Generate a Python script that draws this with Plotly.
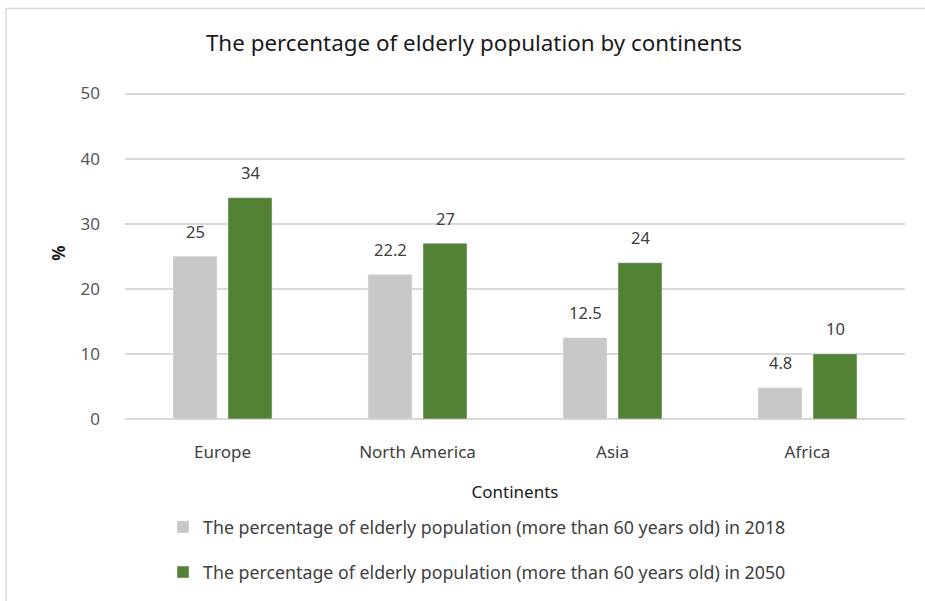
import plotly.graph_objects as go

# Share of population aged over 60, by continent
continents = ["Europe", "North America", "Asia", "Africa"]
pct_2018 = [25, 22.2, 12.5, 4.8]
pct_2050 = [34, 27, 24, 10]
series_names = [
    "The percentage of elderly population (more than 60 years old) in 2018",
    "The percentage of elderly population (more than 60 years old) in 2050",
]
y_ticks = [0, 10, 20, 30, 40, 50]

GREY = "#c8c8c8"
GREEN = "#538135"
FONT = "Noto Sans"
TEXT = "#404040"

W, H = 925, 601
L, R, T, B = 125, 20, 86.5, 182

fig = go.Figure()
fig.add_trace(go.Bar(x=continents, y=pct_2018, name=series_names[0],
                     marker_color=GREY, legendgroup="a"))
fig.add_trace(go.Bar(x=continents, y=pct_2050, name=series_names[1],
                     marker_color=GREEN, legendgroup="b"))

# value labels sitting above each bar
annotations = []
for vals, dx in ((pct_2018, -27.5), (pct_2050, 27.5)):
    for c, v in zip(continents, vals):
        annotations.append(dict(
            x=c, y=v, xref="x", yref="y", text=str(v), showarrow=False,
            xshift=dx, yshift=25, font=dict(family=FONT, size=16.5, color=TEXT)))

pw, ph = W - L - R, H - T - B
def px(xp):
    return (xp - L) / pw
def py(yp):
    return (H - B - yp) / ph

# outer chart frame
shapes = [dict(type="rect", xref="paper", yref="paper",
               x0=px(6), x1=px(935), y0=py(612), y1=py(8),
               line=dict(color="#d9d9d9", width=1.5), layer="below")]

fig.update_layout(
    width=W, height=H,
    margin=dict(l=L, r=R, t=T, b=B, autoexpand=False),
    paper_bgcolor="white", plot_bgcolor="white",
    barmode="group", bargap=0.436, bargroupgap=0.2,
    title=dict(text="The percentage of elderly population by continents",
               xref="paper", x=px(474), xanchor="center",
               yref="container", y=1 - 43 / H, yanchor="middle",
               font=dict(family=FONT, size=22.4, color="#1a1a1a")),
    xaxis=dict(showgrid=False, showline=False, ticks="",
               ticklabelstandoff=21,
               tickfont=dict(family=FONT, size=17, color=TEXT),
               title=dict(text="Continents", standoff=24,
                          font=dict(family=FONT, size=17, color="#1a1a1a"))),
    yaxis=dict(range=[0, 51], tickvals=y_ticks, showgrid=True,
               gridcolor="#d9d9d9", gridwidth=1.5, zeroline=True,
               zerolinecolor="#d9d9d9", zerolinewidth=1.5, ticks="",
               ticklabelstandoff=24,
               tickfont=dict(family=FONT, size=17, color="#595959"),
               title=dict(text="<b>%</b>", standoff=10,
                          font=dict(family=FONT, size=17, color="#1a1a1a"))),
    legend=dict(orientation="v", x=px(163), xanchor="left", y=py(509),
                yanchor="top", tracegroupgap=19,
                font=dict(family=FONT, size=17.8, color=TEXT),
                bgcolor="rgba(0,0,0,0)"),
    annotations=annotations,
    shapes=shapes,
)

fig.write_html("out.html")
